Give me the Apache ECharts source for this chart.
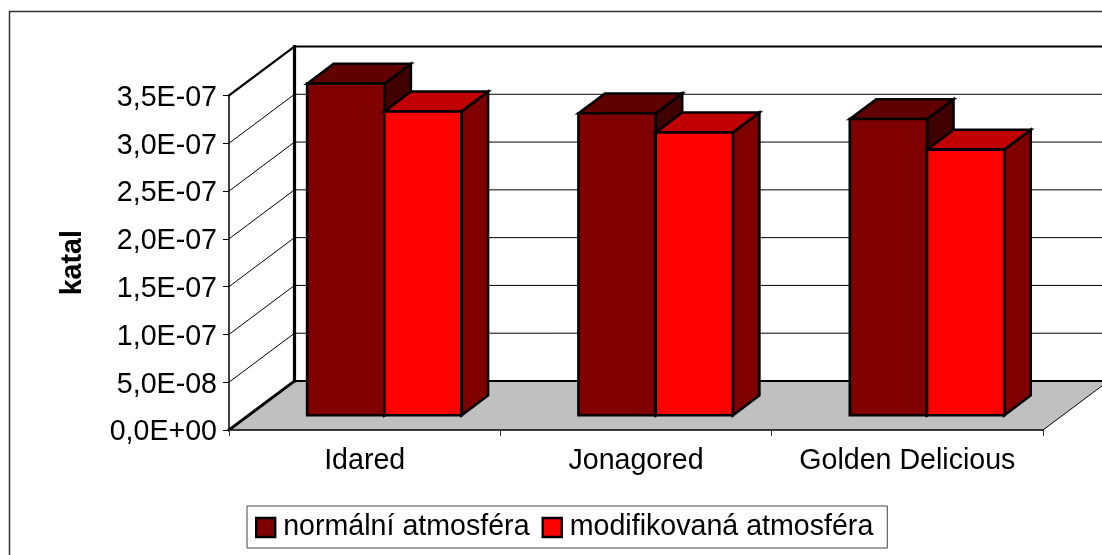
<!DOCTYPE html>
<html>
<head>
<meta charset="utf-8">
<style>html,body{margin:0;padding:0;background:#fff;overflow:hidden}#c{width:1102px;height:555px}</style>
<script src="https://cdn.jsdelivr.net/npm/echarts@6/dist/echarts.min.js"></script>
</head>
<body>
<div id="c"></div>
<script>
const categories = ['Idared', 'Jonagored', 'Golden Delicious'];
const normalValues = [3.47e-7, 3.16e-7, 3.10e-7];
const modifiedValues = [3.18e-7, 2.96e-7, 2.78e-7];
const yTicks = [0, 5e-8, 1e-7, 1.5e-7, 2e-7, 2.5e-7, 3e-7, 3.5e-7];
const yTickLabels = ['0,0E+00', '5,0E-08', '1,0E-07', '1,5E-07', '2,0E-07', '2,5E-07', '3,0E-07', '3,5E-07'];

const FONT = '"Liberation Sans", Arial, sans-serif';
const FS = 28.6;
const DX = 65.5, DY = -49;
const BAR_FRONT = 0.3, BAR_DEPTH = 0.405;
const BAR_WIDTH = 0.2845;

const chart = echarts.init(document.getElementById('c'), null, {renderer: 'canvas'});

function poly(points, fill, stroke, lw) {
  return {type: 'polygon', shape: {points}, style: {fill, stroke: stroke || 'none', lineWidth: lw || 0, lineJoin: 'miter'}};
}
function line(x1, y1, x2, y2, lw, color) {
  return {type: 'line', shape: {x1, y1, x2, y2}, style: {stroke: color || '#000', lineWidth: lw, lineCap: 'square'}};
}

function renderWall(params, api) {
  const v = api.value(1);
  const cs = params.coordSys;
  const y = api.coord([0, v])[1];
  const x0 = cs.x, x1 = cs.x + cs.width;
  const children = [];
  const isFloor = params.dataIndex === 0;
  const isTop = params.dataIndex === yTicks.length - 1;
  if (isFloor) {
    children.push(poly([[x0, y], [x0 + DX, y + DY], [x1 + DX, y + DY], [x1, y]], '#c0c0c0'));
    children.push(line(x0 + DX, y + DY, x0 + DX, y + DY - cs.height, 3.2));
    children.push(line(x1, y, x1 + DX, y + DY, 1));
  }
  children.push(line(x0, y, x0 + DX, y + DY, isFloor ? 3 : isTop ? 2.2 : 1));
  children.push(line(x0 + DX, y + DY, x1 + DX, y + DY, isFloor || isTop ? 2.2 : 1));
  return {type: 'group', children};
}

function barRenderer(seriesIdx, front, top, side) {
  return function (params, api) {
    const cat = api.value(0), v = api.value(1);
    const base = api.coord([cat, 0]);
    const tip = api.coord([cat, v]);
    const w = api.size([1, 0])[0] * BAR_WIDTH;
    const ox = DX * BAR_FRONT, oy = DY * BAR_FRONT;
    const dx = DX * BAR_DEPTH, dy = DY * BAR_DEPTH;
    const xL = base[0] + ox - (seriesIdx === 0 ? w : 0);
    const xR = xL + w;
    const yB = base[1] + oy, yT = tip[1] + oy;
    return {type: 'group', children: [
      poly([[xR, yT], [xR + dx, yT + dy], [xR + dx, yB + dy], [xR, yB]], side, '#000', 2.6),
      poly([[xL, yT], [xL + dx, yT + dy], [xR + dx, yT + dy], [xR, yT]], top, '#000', 2.6),
      poly([[xL, yT], [xR, yT], [xR, yB], [xL, yB]], front, '#000', 2.6)
    ]};
  };
}

chart.setOption({
  animation: false,
  backgroundColor: '#fff',
  textStyle: {fontFamily: FONT},
  graphic: [{
    type: 'rect', z: -10, silent: true,
    shape: {x: 9.5, y: 11.5, width: 1300, height: 800},
    style: {fill: '#fff', stroke: '#333', lineWidth: 1.5}
  }],
  grid: {left: 229, top: 95.5, width: 814, height: 334.5, containLabel: false},
  legend: {
    left: 247, top: 506,
    data: ['normální atmosféra', 'modifikovaná atmosféra'],
    icon: 'rect', itemWidth: 19, itemHeight: 19, itemGap: 12,
    padding: [7, 14, 6, 8],
    backgroundColor: '#fff', borderColor: '#444', borderWidth: 1, borderRadius: 0,
    selectedMode: false,
    textStyle: {fontFamily: FONT, fontSize: FS, color: '#000', padding: [0, 0, 0, 3]},
    itemStyle: {borderColor: '#000', borderWidth: 2.4}
  },
  xAxis: {
    type: 'category', data: categories, z: 3,
    axisLine: {show: true, lineStyle: {color: '#000', width: 1.5}},
    axisTick: {show: true, length: 6, lineStyle: {color: '#333', width: 1}},
    axisLabel: {fontFamily: FONT, fontSize: FS, color: '#000', margin: 17, interval: 0},
    splitLine: {show: false}
  },
  yAxis: {
    type: 'value', min: 0, max: 3.5e-7, interval: 5e-8, z: 3,
    name: 'katal', nameLocation: 'middle', nameGap: 141, nameRotate: 90,
    nameTextStyle: {fontFamily: FONT, fontSize: FS, fontWeight: 'bold', color: '#000'},
    axisLine: {show: true, onZero: false, lineStyle: {color: '#000', width: 1.5}},
    axisTick: {show: true, length: 6, lineStyle: {color: '#000', width: 1}},
    axisLabel: {fontFamily: FONT, fontSize: FS, color: '#000', margin: 12, verticalAlign: 'top', lineHeight: 5,
      formatter: (v, i) => yTickLabels[i]},
    splitLine: {show: false}
  },
  series: [
    {type: 'custom', name: 'walls', silent: true, clip: false, z: 1,
     renderItem: renderWall, data: yTicks.map(v => [0, v])},
    {type: 'custom', name: 'normální atmosféra', clip: false, z: 2,
     itemStyle: {color: '#800000'},
     renderItem: barRenderer(0, '#800000', '#600000', '#400000'),
     data: normalValues.map((v, i) => [i, v])},
    {type: 'custom', name: 'modifikovaná atmosféra', clip: false, z: 3,
     itemStyle: {color: '#ff0000'},
     renderItem: barRenderer(1, '#ff0000', '#c00000', '#800000'),
     data: modifiedValues.map((v, i) => [i, v])}
  ]
});
</script>
</body>
</html>
